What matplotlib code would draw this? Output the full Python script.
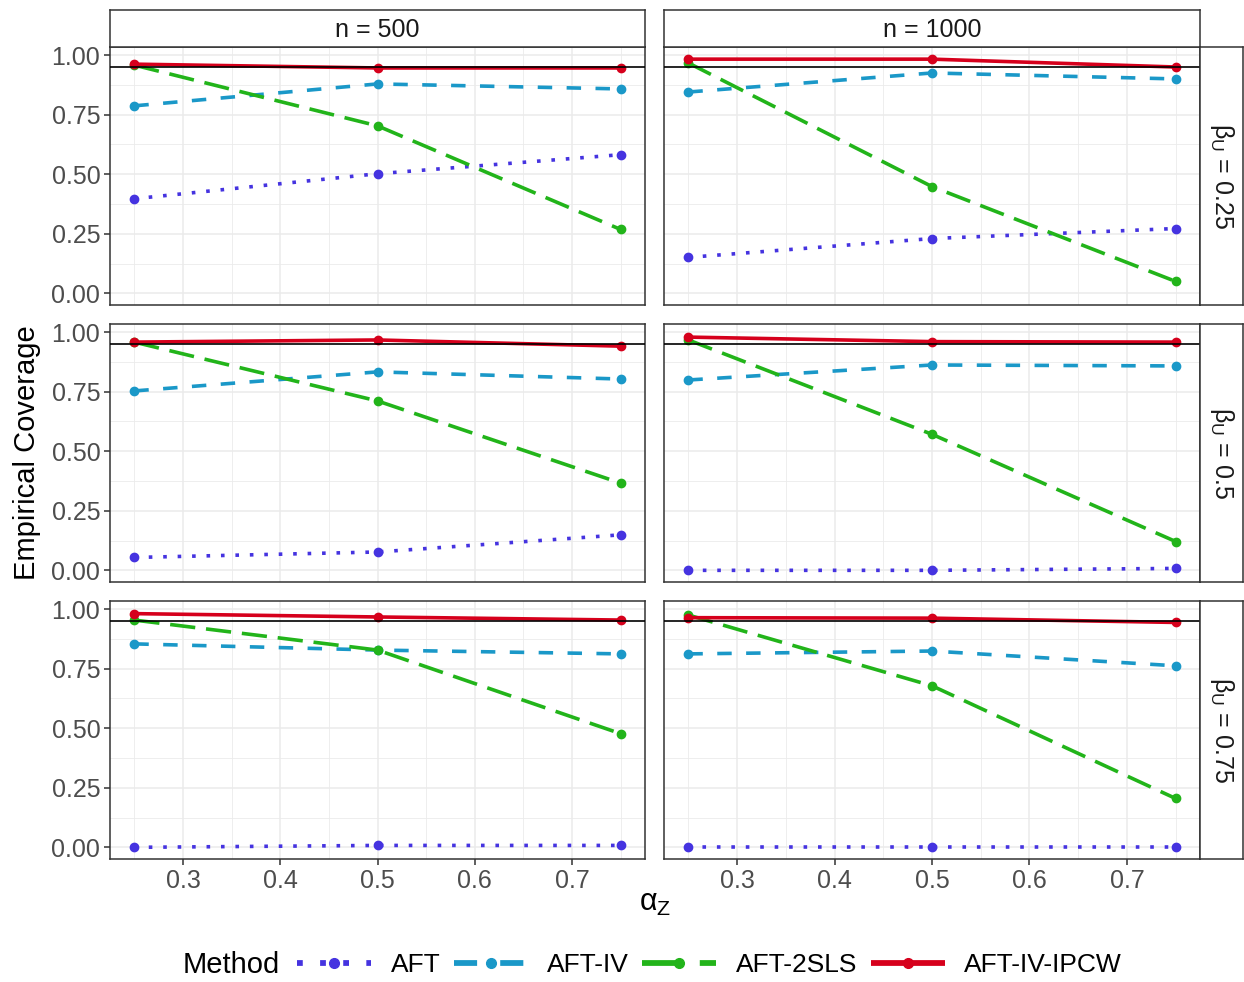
import matplotlib
matplotlib.use('Agg')
import matplotlib.pyplot as plt
from matplotlib.lines import Line2D
from matplotlib.ticker import MultipleLocator, FormatStrFormatter

plt.rcParams['font.family'] = ['Liberation Sans', 'DejaVu Sans']
plt.rcParams['mathtext.fontset'] = 'custom'
plt.rcParams['mathtext.rm'] = 'Liberation Sans'
plt.rcParams['mathtext.it'] = 'Liberation Sans:italic'

# data
alphaZ = [0.25, 0.5, 0.75]
sampleSizes = ['n = 500', 'n = 1000']
betaU = ['0.25', '0.5', '0.75']
methods = ['AFT', 'AFT-IV', 'AFT-2SLS', 'AFT-IV-IPCW']

aft_b25_n500 = [0.397, 0.502, 0.582]
aftiv_b25_n500 = [0.787, 0.879, 0.858]
sls_b25_n500 = [0.958, 0.703, 0.268]
ipcw_b25_n500 = [0.962, 0.946, 0.946]

aft_b25_n1000 = [0.151, 0.230, 0.272]
aftiv_b25_n1000 = [0.845, 0.925, 0.900]
sls_b25_n1000 = [0.967, 0.448, 0.050]
ipcw_b25_n1000 = [0.983, 0.983, 0.950]

aft_b50_n500 = [0.054, 0.077, 0.149]
aftiv_b50_n500 = [0.753, 0.833, 0.803]
sls_b50_n500 = [0.958, 0.711, 0.366]
ipcw_b50_n500 = [0.958, 0.967, 0.941]

aft_b50_n1000 = [0.0, 0.0, 0.008]
aftiv_b50_n1000 = [0.799, 0.862, 0.858]
sls_b50_n1000 = [0.967, 0.571, 0.121]
ipcw_b50_n1000 = [0.979, 0.960, 0.958]

aft_b75_n500 = [0.0, 0.008, 0.008]
aftiv_b75_n500 = [0.854, 0.828, 0.812]
sls_b75_n500 = [0.954, 0.828, 0.477]
ipcw_b75_n500 = [0.981, 0.967, 0.954]

aft_b75_n1000 = [0.0, 0.0, 0.0]
aftiv_b75_n1000 = [0.812, 0.824, 0.762]
sls_b75_n1000 = [0.975, 0.678, 0.205]
ipcw_b75_n1000 = [0.964, 0.962, 0.944]

nominal = 0.95

panels = [[[aft_b25_n500, aftiv_b25_n500, sls_b25_n500, ipcw_b25_n500],
           [aft_b25_n1000, aftiv_b25_n1000, sls_b25_n1000, ipcw_b25_n1000]],
          [[aft_b50_n500, aftiv_b50_n500, sls_b50_n500, ipcw_b50_n500],
           [aft_b50_n1000, aftiv_b50_n1000, sls_b50_n1000, ipcw_b50_n1000]],
          [[aft_b75_n500, aftiv_b75_n500, sls_b75_n500, ipcw_b75_n500],
           [aft_b75_n1000, aftiv_b75_n1000, sls_b75_n1000, ipcw_b75_n1000]]]

colours = ['#4533E0', '#1A98C8', '#22B41A', '#D6001C']
dashes = [(1, 3), (4, 4), (7, 3), None]
LW = 2.6

W, H = 1244, 982
fig = plt.figure(figsize=(W / 100, H / 100), dpi=100)

def px(x0, y0, x1, y1):
    return [x0 / W, 1 - y1 / H, (x1 - x0) / W, (y1 - y0) / H]

colX = [(110, 645), (664, 1200)]
rowY = [(47, 305), (324, 582), (601, 859)]

for r in range(3):
    for c in range(2):
        ax = fig.add_axes(px(colX[c][0], rowY[r][0], colX[c][1], rowY[r][1]))
        ax.set_xlim(0.225, 0.775)
        ax.set_ylim(-0.049, 1.034)
        ax.xaxis.set_major_locator(MultipleLocator(0.1))
        ax.xaxis.set_minor_locator(MultipleLocator(0.05))
        ax.yaxis.set_major_locator(MultipleLocator(0.25))
        ax.yaxis.set_minor_locator(MultipleLocator(0.125))
        ax.grid(which='major', color='#EBEBEB', lw=1.1, zorder=0)
        ax.grid(which='minor', color='#EBEBEB', lw=0.6, zorder=0)
        ax.set_axisbelow(True)
        for s in ax.spines.values():
            s.set_color('#333333')
            s.set_linewidth(1.1)
        ax.tick_params(which='minor', length=0)
        ax.tick_params(which='major', length=4, width=1.1, color='#333333',
                       labelsize=18, labelcolor='#4D4D4D', pad=3)
        for i in range(4):
            ln, = ax.plot(alphaZ, panels[r][c][i], color=colours[i], lw=LW,
                          marker='o', ms=6, solid_capstyle='butt',
                          dash_capstyle='butt', zorder=2 + i)
            if dashes[i] is not None:
                ln.set_dashes(dashes[i])
        ax.axhline(nominal, color='black', lw=1.2, zorder=7)
        if c == 0:
            ax.yaxis.set_major_formatter(FormatStrFormatter('%.2f'))
        else:
            ax.tick_params(axis='y', left=False, labelleft=False)
        if r == 2:
            ax.xaxis.set_major_formatter(FormatStrFormatter('%.1f'))
        else:
            ax.tick_params(axis='x', bottom=False, labelbottom=False)

        if r == 0:
            sx = fig.add_axes(px(colX[c][0], 10, colX[c][1], 47))
            sx.set_xticks([]); sx.set_yticks([])
            for s in sx.spines.values():
                s.set_color('#333333'); s.set_linewidth(1.1)
            sx.text(0.5, 0.47, sampleSizes[c], ha='center', va='center',
                    fontsize=18, color='#1A1A1A', transform=sx.transAxes)
        if c == 1:
            sy = fig.add_axes(px(1200, rowY[r][0], 1243, rowY[r][1]))
            sy.set_xticks([]); sy.set_yticks([])
            for s in sy.spines.values():
                s.set_color('#333333'); s.set_linewidth(1.1)
            sy.text(0.5, 0.5, 'β$_{\\mathrm{U}}$ = ' + betaU[r],
                    ha='center', va='center', rotation=270,
                    fontsize=18, color='#1A1A1A', transform=sy.transAxes)

fig.text(27 / W, 1 - 453 / H, 'Empirical Coverage', rotation=90,
         ha='center', va='center', fontsize=21)
fig.text(655 / W, 1 - 903 / H, 'α$_{\\mathrm{Z}}$', ha='center',
         va='center', fontsize=22)

handles = []
for i in range(4):
    h = Line2D([], [], color=colours[i], lw=LW * 1.6, marker='o', ms=7,
               solid_capstyle='butt', dash_capstyle='butt')
    if dashes[i] is not None:
        h.set_dashes(dashes[i])
    handles.append(h)

fig.text(183 / W, 1 - 965 / H, 'Method', ha='left', va='center', fontsize=21)
fig.legend(handles, methods, loc='center left', bbox_to_anchor=(297 / W, 1 - 965 / H),
           ncol=4, frameon=False, fontsize=19, handlelength=2.8,
           handletextpad=0.75, columnspacing=0.5, borderaxespad=0, borderpad=0)

fig.savefig('out.png', dpi=100)
